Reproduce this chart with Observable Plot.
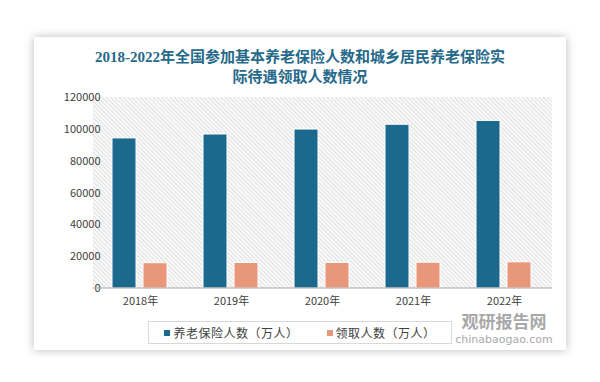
<!DOCTYPE html>
<html><head><meta charset="utf-8">
<script src="https://cdn.jsdelivr.net/npm/d3@7"></script>
<script src="https://cdn.jsdelivr.net/npm/@observablehq/plot@0.6"></script>
<style>
body{margin:0;background:#fff;font-family:"Noto Sans CJK SC","Noto Sans",sans-serif}
#wrap{position:relative;width:600px;height:382px;overflow:hidden;background:#fff}
#card{position:absolute;left:34px;top:37px;width:532px;height:313px;background:#fff;box-shadow:0 0 9px rgba(0,0,0,0.28)}
#title{position:absolute;left:0;width:600px;top:47px;text-align:center;font-weight:bold;font-size:15px;line-height:20px;font-family:"Liberation Serif","Noto Sans CJK SC",serif;color:#26698a}
#chart{position:absolute;left:0;top:85px}
#legend{position:absolute;left:148px;top:321px;width:302px;height:21px;border:1px solid #d9d9d9;display:flex;align-items:center;justify-content:center;gap:28px;font-size:12px;color:#404040;letter-spacing:0.5px}
#legend .it{display:flex;align-items:center}
#legend .sw{width:6px;height:6px;margin-right:3px}
.wm{position:absolute;left:452px;width:104px;color:#8c8c8c;opacity:0.75;text-align:center;white-space:nowrap}
#wma{top:312px;font-size:17px;font-weight:bold;line-height:17px}
#wmb{top:334px;font-size:11px;line-height:12px;font-family:"DejaVu Sans",sans-serif}
</style></head>
<body><div id="wrap">
<div id="card"></div>
<div id="title"></div>
<div id="chart"></div>
<div id="legend"></div>
<div class="wm" id="wma">观研报告网</div><div class="wm" id="wmb">chinabaogao.com</div>
</div>
<script>
const titleLines = ["2018-2022年全国参加基本养老保险人数和城乡居民养老保险实", "际待遇领取人数情况"];
const years = ["2018年", "2019年", "2020年", "2021年", "2022年"];
const seriesNames = ["养老保险人数（万人）", "领取人数（万人）"];
const insured = [94293, 96754, 99865, 102871, 105307];
const receiving = [15898, 16032, 16068, 16213, 16464];
const yTicks = [0, 20000, 40000, 60000, 80000, 100000, 120000];
const colors = ["#1b6a8e", "#e9977a"];

document.getElementById("title").innerHTML = titleLines.join("<br>");

const data = years.flatMap((y, i) => [
  {year: y, series: seriesNames[0], value: insured[i]},
  {year: y, series: seriesNames[1], value: receiving[i]}
]);

const plot = Plot.plot({
  width: 600, height: 230,
  marginTop: 12, marginBottom: 27, marginLeft: 93, marginRight: 48,
  style: {fontFamily: "'Noto Sans CJK SC', 'Noto Sans', sans-serif", fontSize: "11px", color: "#404040", background: "transparent", overflow: "visible"},
  fx: {domain: years, paddingInner: 0.38, paddingOuter: 0.19, label: null, axis: "bottom", tickSize: 0, tickPadding: 9},
  x: {domain: seriesNames, paddingInner: 0.22, paddingOuter: 0, axis: null},
  y: {domain: [0, 120000], ticks: yTicks, tickSize: 0, tickPadding: 12, label: null, tickFormat: d => String(d)},
  color: {domain: seriesNames, range: colors},
  marks: [
    Plot.barY(data, {fx: "year", x: "series", y: "value", fill: "series", stroke: "white", strokeWidth: 1})
  ]
});

// hatched plot background and baseline spanning the whole plot area, from Plot's scales
const ns = "http://www.w3.org/2000/svg";
const fxS = plot.scale("fx"), yS = plot.scale("y");
const xr = fxS && fxS.range ? fxS.range : [93, 552];
const yr = yS.range;
const defs = document.createElementNS(ns, "defs");
defs.innerHTML = `<pattern id="hatch" width="3" height="3" patternUnits="userSpaceOnUse" patternTransform="rotate(-45)">
<rect width="3" height="3" fill="#fafafa"/><line x1="0.5" y1="0" x2="0.5" y2="3" stroke="#d9d9d9" stroke-width="0.8"/></pattern>`;
const bg = document.createElementNS(ns, "rect");
bg.setAttribute("x", Math.min(...xr)); bg.setAttribute("width", Math.abs(xr[1] - xr[0]));
bg.setAttribute("y", Math.min(...yr)); bg.setAttribute("height", Math.abs(yr[1] - yr[0]));
bg.setAttribute("fill", "url(#hatch)");
const base = document.createElementNS(ns, "line");
base.setAttribute("x1", Math.min(...xr)); base.setAttribute("x2", Math.max(...xr));
base.setAttribute("y1", yS.apply(0)); base.setAttribute("y2", yS.apply(0));
base.setAttribute("stroke", "#a6a6a6"); base.setAttribute("stroke-width", 1);
const firstG = plot.querySelector("g");
plot.insertBefore(defs, firstG);
plot.insertBefore(bg, firstG);
plot.appendChild(base);
document.getElementById("chart").appendChild(plot);

const lg = document.getElementById("legend");
seriesNames.forEach((s, i) => {
  const it = document.createElement("div"); it.className = "it";
  it.innerHTML = `<span class="sw" style="background:${colors[i]}"></span><span>${s}</span>`;
  lg.appendChild(it);
});
</script>
</body></html>
